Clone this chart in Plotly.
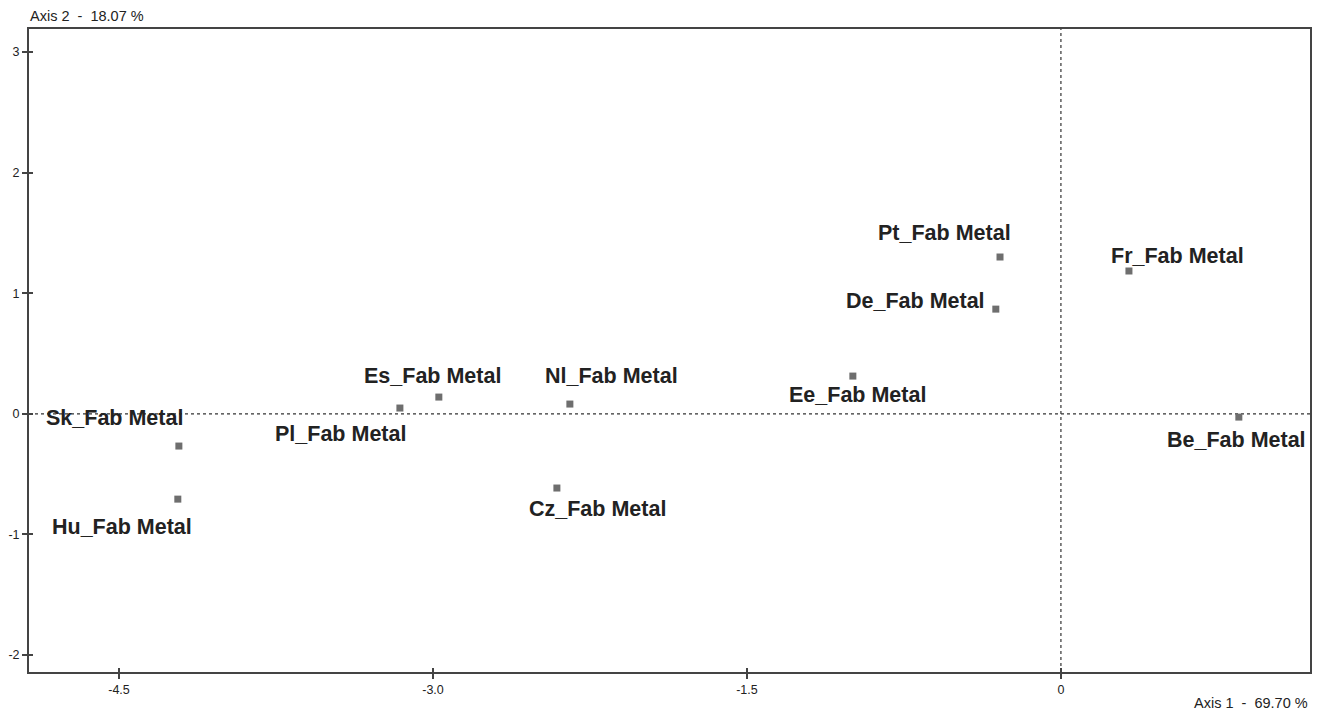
import plotly.graph_objects as go

names = ["Sk_Fab Metal", "Hu_Fab Metal", "Pl_Fab Metal", "Es_Fab Metal", "Nl_Fab Metal",
         "Cz_Fab Metal", "Ee_Fab Metal", "Pt_Fab Metal", "De_Fab Metal", "Fr_Fab Metal", "Be_Fab Metal"]
axis1 = [-4.214, -4.219, -3.158, -2.972, -2.346, -2.408, -0.994, -0.291, -0.311, 0.325, 0.850]
axis2 = [-0.267, -0.707, 0.048, 0.139, 0.081, -0.615, 0.313, 1.300, 0.868, 1.184, -0.027]
# label offsets in pixels (dx, dy with y up)
label_dx = [-64, -56, -59, -6, 42, 41, 5, -56, -80, 49, -2]
label_dy = [28, -28, -26, 21, 28, -21, -19, 24, 8, 15, -23]

x_tickvals = [-4.5, -3.0, -1.5, 0]
x_ticktext = ["-4.5", "-3.0", "-1.5", "0"]
y_tickvals = [3, 2, 1, 0, -1, -2]
y_ticktext = ["3", "2", "1", "0", "-1", "-2"]

XR = [-4.93, 1.19]
YR = [-2.14, 3.19]
FONT = "Liberation Sans, Arial, sans-serif"

fig = go.Figure()
fig.add_trace(go.Scatter(
    x=axis1, y=axis2, mode="markers",
    marker=dict(symbol="square", size=7, color="#6e6e6e", line=dict(width=0)),
    showlegend=False, hoverinfo="text", text=names))
# invisible trace to activate the overlay axes (inside tick halves)
fig.add_trace(go.Scatter(x=[XR[0]], y=[YR[0]], xaxis="x2", yaxis="y2", mode="markers",
                         marker=dict(opacity=0), showlegend=False, hoverinfo="skip"))

for n, x, y, dx, dy in zip(names, axis1, axis2, label_dx, label_dy):
    fig.add_annotation(x=x, y=y, xref="x", yref="y", text=f"<b>{n}</b>", showarrow=False,
                       xshift=dx, yshift=dy,
                       font=dict(family=FONT, size=21.5, color="#222222"))

# zero reference lines
fig.add_shape(type="line", xref="x", yref="paper", x0=0, x1=0, y0=0, y1=1,
              line=dict(color="#333333", width=1.2, dash="3px,3px"), layer="below")
fig.add_shape(type="line", xref="paper", yref="y", x0=0, x1=1, y0=0, y1=0,
              line=dict(color="#333333", width=1.2, dash="3px,3px"), layer="below")

fig.add_annotation(xref="paper", yref="paper", x=0, y=1, xanchor="left", yanchor="bottom",
                   xshift=-1, yshift=3, text="Axis 2  -  18.07 %", showarrow=False,
                   font=dict(family=FONT, size=14.5, color="#222222"))
fig.add_annotation(xref="paper", yref="paper", x=1, y=0, xanchor="right", yanchor="top",
                   yshift=-21, text="Axis 1  -  69.70 %", showarrow=False,
                   font=dict(family=FONT, size=14.5, color="#222222"))

axis_common = dict(showgrid=False, zeroline=False, showline=True, mirror=True,
                   linecolor="#444444", linewidth=2, ticks="outside", ticklen=5,
                   tickcolor="#444444", tickwidth=1.5, automargin=False,
                   tickfont=dict(family=FONT, size=12.5, color="#222222"))
overlay_common = dict(showgrid=False, zeroline=False, showline=False, ticks="inside", ticklen=4,
                      tickcolor="#444444", tickwidth=1.5, showticklabels=False, automargin=False)

fig.update_layout(
    width=1325, height=713,
    margin=dict(l=29, r=15, t=29, b=41),
    paper_bgcolor="white", plot_bgcolor="white",
    xaxis=dict(range=XR, tickvals=x_tickvals, ticktext=x_ticktext, **axis_common),
    yaxis=dict(range=YR, tickvals=y_tickvals, ticktext=y_ticktext, **axis_common),
    xaxis2=dict(range=XR, tickvals=x_tickvals, overlaying="x", anchor="y2", **overlay_common),
    yaxis2=dict(range=YR, tickvals=y_tickvals, overlaying="y", anchor="x2", **overlay_common),
)

fig.write_html("out.html")
